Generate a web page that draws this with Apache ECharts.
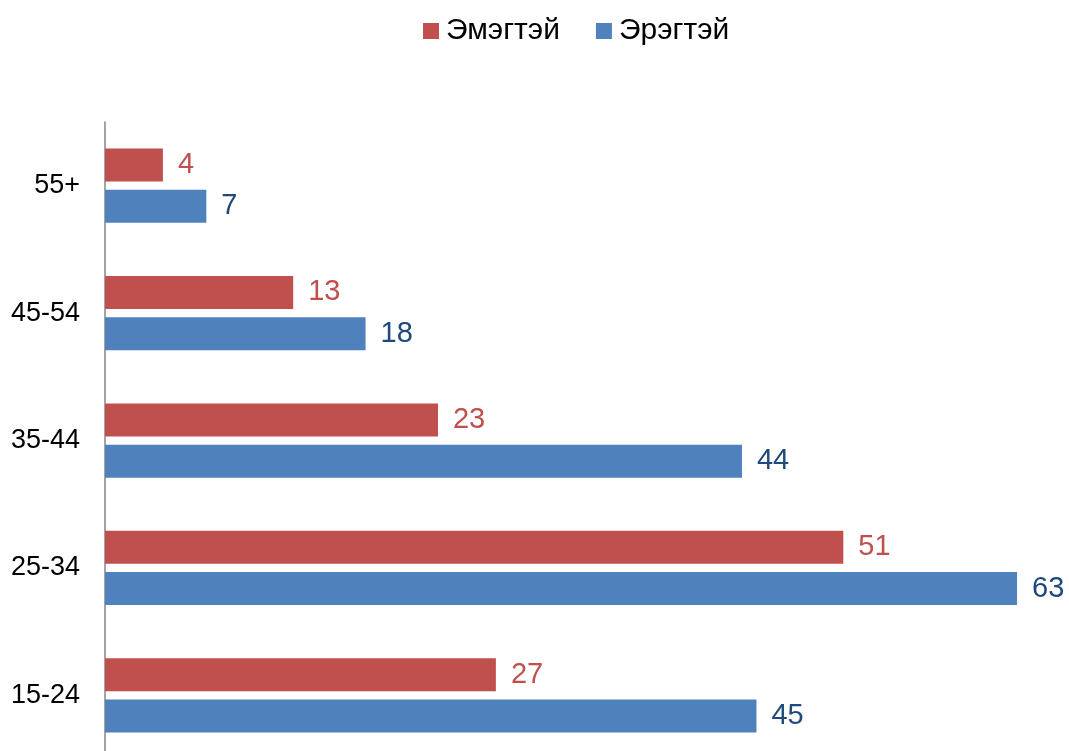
<!DOCTYPE html>
<html>
<head>
<meta charset="utf-8">
<script src="https://cdn.jsdelivr.net/npm/echarts@6/dist/echarts.min.js"></script>
<style>
  html, body { margin: 0; padding: 0; background: #fff; }
  #chart { width: 1069px; height: 751px; }
</style>
</head>
<body>
<div id="chart"></div>
<script>
var ageGroups = ['15-24', '25-34', '35-44', '45-54', '55+'];
var female = [27, 51, 23, 13, 4];
var male = [45, 63, 44, 18, 7];

var chartDom = document.getElementById('chart');
var chart = echarts.init(chartDom);

var option = {
    animation: false,
    textStyle: { fontFamily: 'Liberation Sans, Arial, sans-serif' },
    legend: {
        top: 11,
        left: 418,
        icon: 'rect',
        itemWidth: 16,
        itemHeight: 16,
        itemGap: 36,
        textStyle: { fontSize: 30, color: '#000', padding: [0, 0, 0, 2] },
        data: ['Эмэгтэй', 'Эрэгтэй']
    },
    grid: {
        left: 105,
        width: 941,
        top: 122,
        height: 637,
        outerBoundsMode: 'none',
        containLabel: false
    },
    xAxis: {
        type: 'value',
        min: 0,
        max: 65,
        show: false
    },
    yAxis: {
        type: 'category',
        data: ageGroups,
        axisLine: { show: true, lineStyle: { color: '#868686', width: 1.5 } },
        axisTick: { show: false },
        axisLabel: { fontSize: 27, color: '#000', margin: 25 }
    },
    series: [
        {
            name: 'Эмэгтэй',
            type: 'bar',
            data: female,
            barWidth: 33,
            barGap: '25%',
            itemStyle: { color: '#C0504D' },
            label: { show: true, position: 'right', distance: 15, fontSize: 29, color: '#C0504D' }
        },
        {
            name: 'Эрэгтэй',
            type: 'bar',
            data: male,
            barWidth: 33,
            barGap: '25%',
            itemStyle: { color: '#4F81BD' },
            label: { show: true, position: 'right', distance: 15, fontSize: 29, color: '#1F497D' }
        }
    ]
};

chart.setOption(option);
</script>
</body>
</html>
